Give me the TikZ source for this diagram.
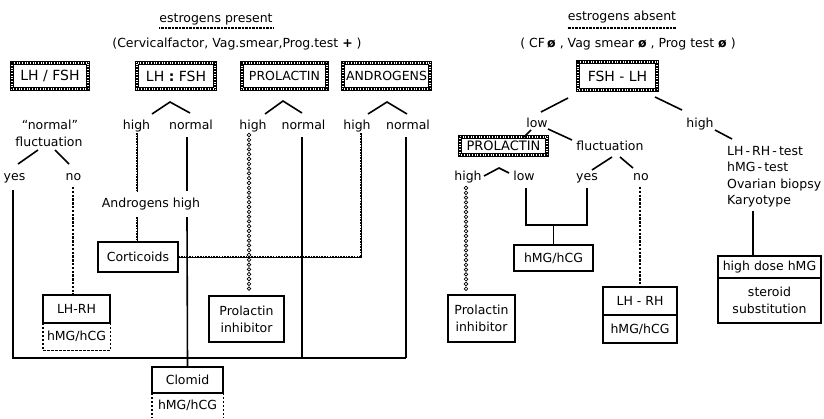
\documentclass[tikz,border=0pt]{standalone}
\usepackage{fontspec}
\setmainfont{DejaVu Sans}
\usetikzlibrary{decorations.markings}
\tikzset{
  lnk/.style={line width=1.6pt},
  box/.style={draw, line width=2pt, inner sep=1pt, align=center},
  hbox/.style={draw, line width=2.4pt, dash pattern=on 0.9pt off 0.7pt,
    preaction={draw, solid, line width=0.8pt, double, double distance=2.4pt}, inner sep=1pt},
  hul/.style={line width=1.5pt, dash pattern=on 0.8pt off 0.6pt,
    preaction={draw, solid, line width=0.5pt, double, double distance=1.5pt}},
  ladder/.style={line width=2.6pt, dash pattern=on 1.6pt off 1.1pt,
    preaction={draw, solid, line width=0.9pt}},
  dsh/.style={line width=1.7pt, dash pattern=on 2.4pt off 1.4pt},
  dboxline/.style={line width=1.4pt, dash pattern=on 2.5pt off 1.5pt},
  ringchain/.style={decorate, decoration={markings,
    mark=between positions 0 and 1 step 4.8pt with {\draw[line width=0.7pt, solid] (0,0) circle (1.8pt);}}},
  lb/.style={inner sep=0pt, anchor=base},
  lbw/.style={inner sep=0pt, anchor=base west},
}
\begin{document}
\begin{tikzpicture}[x=1pt,y=-1pt, font=\fontsize{12.5}{17}\selectfont]
\useasboundingbox (0,0) rectangle (824,418);
\fill[white] (0,0) rectangle (824,418);

% ---------- titles ----------
\node[lb] (ep) at (216,22) {estrogens present};
\draw[hul] ([yshift=-3pt]ep.south west) -- ([yshift=-3pt]ep.south east);
\node[lb] (cf1) at (237,47.5) {(Cervicalfactor, Vag.smear,Prog.test \textbf{+} )};
\node[lb] (ea) at (622,20) {estrogens absent};
\draw[hul] ([yshift=-5pt]ea.south west) -- ([yshift=-5pt]ea.south east);
\node[lb] (cf2) at (628,47) {( CF\,{\bfseries ø} , Vag smear {\bfseries ø} , Prog test {\bfseries ø} )};

% ---------- hatched boxes ----------
\node[hbox, minimum width=76pt, minimum height=26pt, font=\fontsize{14}{16}\selectfont] (b1) at (50,76) {LH / FSH};
\node[hbox, minimum width=78pt, minimum height=26pt, font=\fontsize{14}{16}\selectfont] (b2) at (176,76) {LH \textbf{:} FSH};
\node[hbox, minimum width=85pt, minimum height=26pt] (b3) at (284.5,76) {PROLACTIN};
\node[hbox, minimum width=87pt, minimum height=26pt] (b4) at (386.5,76) {ANDROGENS};
\node[hbox, minimum width=79pt, minimum height=28pt, font=\fontsize{14}{16}\selectfont] (b5) at (617.5,76) {FSH - LH};
\node[hbox, minimum width=87pt, minimum height=18pt, font=\fontsize{13}{15}\selectfont] (b6) at (503.5,146) {PROLACTIN};

% ---------- left labels ----------
\node[lb] (qn) at (50,129) {“normal”};
\node[lb] (fl1) at (49,146.5) {fluctuation};
\node[lb] (y1) at (14.5,180) {yes};
\node[lb] (n1) at (73.5,180) {no};
\node[lb] (h1) at (136.5,129) {high};
\node[lb] (m1) at (191,129) {normal};
\node[lb] (h2) at (253,129) {high};
\node[lb] (m2) at (303.5,129) {normal};
\node[lb] (h3) at (357,129) {high};
\node[lb] (m3) at (408,129) {normal};
\node[lb] (ah) at (151,207.5) {Androgens high};

% ---------- left boxes ----------
\node[box, minimum width=80pt, minimum height=30pt] (cort) at (138,257) {Corticoids};
\node[box, minimum width=67pt, minimum height=28pt] (lhrh1) at (76.5,309) {LH-RH};
\node[inner sep=0pt, minimum width=67pt, minimum height=27pt] (hm1) at (76.5,336.5) {hMG/hCG};
\draw[dboxline] (hm1.north west) |- (hm1.south east) -- (hm1.north east);
\node[box, minimum width=75pt, minimum height=46pt] (pi1) at (246.5,319) {Prolactin\\inhibitor};
\node[box, minimum width=71pt, minimum height=26pt] (clo) at (187.5,380) {Clomid};
\node[inner sep=0pt, minimum width=71pt, minimum height=25pt] (hm3) at (187.5,405.5) {hMG/hCG};
\draw[dboxline] (hm3.north west) -- (hm3.south west);
\draw[dboxline] (hm3.north east) -- (hm3.south east);

% ---------- left connectors ----------
\coordinate (fa1) at (18,164); \coordinate (fa2) at (38,150);
\coordinate (fb1) at (55,150); \coordinate (fb2) at (69,164);
\draw[lnk] (fa1) -- (fa2);
\draw[lnk] (fb1) -- (fb2);
\coordinate (yt) at (13,190); \coordinate (yb) at (13,358);
\coordinate (rb) at (406,358);
\draw[lnk] (yt) -- (yb) -- (rb);
\coordinate (nt) at (73,187); \coordinate (nb) at (73,295);
\draw[dsh] (nt) -- (nb);

\coordinate (c2l) at (152,114); \coordinate (c2p) at (170,102); \coordinate (c2r) at (190,113);
\draw[lnk] (c2l) -- (c2p) -- (c2r);
\coordinate (h1a) at (137,133); \coordinate (h1b) at (137,192);
\coordinate (h1c) at (137,217); \coordinate (h1d) at (137,242);
\draw[ladder] (h1a) -- (h1b);
\draw[ladder] (h1c) -- (h1d);
\coordinate (m1a) at (187,137); \coordinate (m1b) at (187,191); \coordinate (m1c) at (187,217);
\draw[lnk] (m1a) -- (m1b);
\draw[lnk] (m1c) -- (clo.north);

\coordinate (c3l) at (265,114); \coordinate (c3p) at (283,101); \coordinate (c3r) at (302,113);
\draw[lnk] (c3l) -- (c3p) -- (c3r);
\coordinate (h2a) at (249,135); \coordinate (h2b) at (249,293);
\path[ringchain] (h2a) -- (h2b);
\coordinate (m2a) at (302,137); \coordinate (m2b) at (302,358);
\draw[lnk] (m2a) -- (m2b);

\coordinate (c4l) at (368,114); \coordinate (c4p) at (387,102); \coordinate (c4r) at (407,114);
\draw[lnk] (c4l) -- (c4p) -- (c4r);
\coordinate (h3a) at (361,133);
\draw[ladder] (h3a) |- (cort.east);
\coordinate (m3a) at (406,137);
\draw[lnk] (m3a) -- (rb);

% ---------- right labels ----------
\node[lb] (lo) at (537,127.5) {low};
\node[lb] (hi) at (700,127) {high};
\node[lb] (fl2) at (610,150.5) {fluctuation};
\node[lb] (h5) at (468,180) {high};
\node[lb] (l5) at (524,180) {low};
\node[lb] (y5) at (587,180) {yes};
\node[lb] (n5) at (641,180) {no};
\node[lbw] (t1) at (727,155) {LH\,-\,RH\,-\,test};
\node[lbw] (t2) at (727,171.5) {hMG\,-\,test};
\node[lbw] (t3) at (727,188) {Ovarian biopsy};
\node[lbw] (t4) at (727,204.5) {Karyotype};

% ---------- right boxes ----------
\node[box, minimum width=79pt, minimum height=26pt] (hmg2) at (553.5,258) {hMG/hCG};
\node[box, minimum width=67pt, minimum height=47pt] (pi2) at (481.5,318.5) {Prolactin\\inhibitor};
\node[box, minimum width=74pt, minimum height=28pt] (lhrh2) at (640,301) {LH - RH};
\node[box, minimum width=74pt, minimum height=28pt] (hm2) at (640,329) {hMG/hCG};
\node[box, minimum width=103pt, minimum height=22pt] (hd1) at (769.5,267) {high dose hMG};
\node[box, minimum width=103pt, minimum height=45pt] (hd2) at (769.5,300.5) {steroid\\substitution};

% ---------- right connectors ----------
\coordinate (r1a) at (568,98); \coordinate (r1b) at (541,112);
\draw[lnk] (r1a) -- (r1b);
\coordinate (r2a) at (655,97); \coordinate (r2b) at (682,110);
\draw[lnk] (r2a) -- (r2b);
\coordinate (k1) at (531,130); \coordinate (k2) at (524,137);
\draw[lnk] (k1) -- (k2);
\coordinate (k3) at (548,129); \coordinate (k4) at (572,140);
\draw[lnk] (k3) -- (k4);
\coordinate (f2a) at (592,170); \coordinate (f2b) at (612,157);
\coordinate (f2c) at (620,157); \coordinate (f2d) at (633,168);
\draw[lnk] (f2a) -- (f2b);
\draw[lnk] (f2c) -- (f2d);
\coordinate (pa) at (484,176); \coordinate (pp) at (499,168); \coordinate (pb) at (509,173);
\draw[lnk] (pa) -- (pp) -- (pb);
\coordinate (ch2a) at (466,188); \coordinate (ch2b) at (466,293);
\path[ringchain] (ch2a) -- (ch2b);
\coordinate (la) at (526,188); \coordinate (lb1) at (526,225);
\coordinate (ya) at (587,188); \coordinate (yb1) at (587,225);
\coordinate (st) at (553.5,225);
\draw[lnk] (la) -- (lb1) -- (yb1) -- (ya);
\draw[lnk] (st) -- (hmg2.north);
\coordinate (n5a) at (640,187);
\draw[dsh] (n5a) -- (lhrh2.north);
\coordinate (ta) at (715,130); \coordinate (tb) at (732,139);
\draw[lnk] (ta) -- (tb);
\coordinate (ka) at (753,211); \coordinate (kb) at (753,256);
\draw[lnk] (ka) -- (kb);
\end{tikzpicture}
\end{document}
